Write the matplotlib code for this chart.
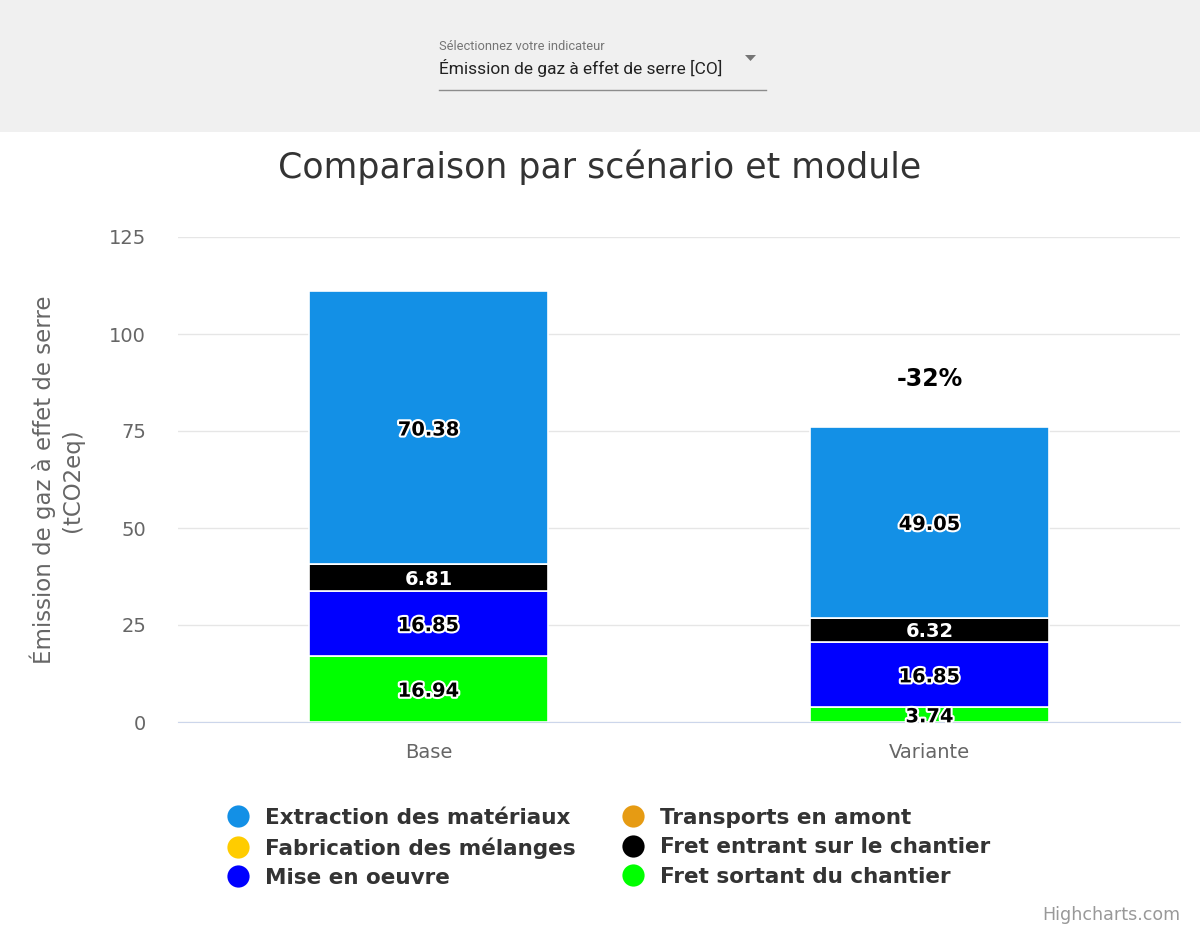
import numpy as np
import matplotlib
matplotlib.use("Agg")

import matplotlib.pyplot as plt
import matplotlib.patheffects as pe
from matplotlib.lines import Line2D
from matplotlib.patches import Rectangle, Polygon

# data (stack order: bottom -> top)
scenarios = ["Base", "Variante"]
series_names = ["Fret sortant du chantier", "Mise en oeuvre", "Fret entrant sur le chantier",
                "Fabrication des mélanges", "Transports en amont", "Extraction des matériaux"]
series_colors = ["#00ff00", "#0000ff", "#000000", "#ffcc00", "#e69b13", "#1390e6"]
fret_sortant = [16.94, 3.74]
mise_en_oeuvre = [16.85, 16.85]
fret_entrant = [6.81, 6.32]
fabrication = [0.0, 0.0]
transports = [0.0, 0.0]
extraction = [70.38, 49.05]
yticks = [0, 25, 50, 75, 100, 125]

series_values = [fret_sortant, mise_en_oeuvre, fret_entrant, fabrication, transports, extraction]

fig = plt.figure(figsize=(12, 9.32), dpi=100)

# header band with the selector
fig.add_artist(Rectangle((0, 1 - 132 / 932), 1, 132 / 932, transform=fig.transFigure,
                         facecolor="#f0f0f0", edgecolor="none", zorder=0))
fig.text(439 / 1200, 1 - 47 / 932, "Sélectionnez votre indicateur", family="Roboto",
         fontsize=9.3, color="#757575", va="center", ha="left")
fig.text(439 / 1200, 1 - 68 / 932, "Émission de gaz à effet de serre [CO]", family="Roboto",
         fontsize=12.5, color="#222222", va="center", ha="left")
fig.add_artist(Line2D([439 / 1200, 766 / 1200], [1 - 90 / 932, 1 - 90 / 932],
                      transform=fig.transFigure, color="#8c8c8c", lw=1))
fig.add_artist(Polygon([[745 / 1200, 1 - 55 / 932], [756 / 1200, 1 - 55 / 932],
                        [750.5 / 1200, 1 - 61 / 932]], closed=True, transform=fig.transFigure,
                       facecolor="#757575", edgecolor="none"))

ax = fig.add_axes([178 / 1200, 1 - 722 / 932, 1002 / 1200, 485 / 932])
x = np.arange(len(scenarios))
bottom = np.zeros(len(scenarios))
outline = [pe.withStroke(linewidth=3, foreground="white")]
for name, vals, col in zip(series_names, series_values, series_colors):
    vals = np.array(vals)
    ax.bar(x, vals, 0.479, bottom=bottom, color=col, edgecolor="white", linewidth=1.2,
           label=name, zorder=3)
    for xi, v, b in zip(x, vals, bottom):
        if v > 0:
            if col == "#000000":
                ax.annotate(f"{v:.2f}", (xi, b + v / 2), xytext=(0, -1.5),
                            textcoords="offset points", ha="center", va="center",
                            fontsize=14, fontweight="bold", color="white", zorder=5)
            else:
                ax.annotate(f"{v:.2f}", (xi, b + v / 2), xytext=(0, -1.5),
                            textcoords="offset points", ha="center", va="center",
                            fontsize=14, fontweight="bold", color="black",
                            path_effects=outline, zorder=5)
    bottom = bottom + vals

# change relative to base
pct = (bottom[1] - bottom[0]) / bottom[0] * 100
ax.annotate(f"{pct:.0f}%", (x[1], bottom[1]), xytext=(0, 35), textcoords="offset points",
            ha="center", va="center", fontsize=17, fontweight="bold", color="black")

ax.set_xlim(-0.5, 1.5)
ax.set_ylim(0, 125)
ax.set_yticks(yticks)
ax.set_xticks(x)
ax.set_xticklabels(scenarios)
ax.tick_params(axis="y", length=0, pad=23, labelsize=14, labelcolor="#666666")
ax.tick_params(axis="x", length=0, pad=15, labelsize=14, labelcolor="#666666")
ax.grid(axis="y", color="#e6e6e6", lw=1, zorder=0)
for s in ["top", "right", "left"]:
    ax.spines[s].set_visible(False)
ax.spines["bottom"].set_color("#ccd6eb")
ax.spines["bottom"].set_zorder(4)

fig.text(57 / 1200, 1 - 480 / 932, "Émission de gaz à effet de serre\n(tCO2eq)", rotation=90,
         ha="center", va="center", fontsize=16.5, color="#666666", linespacing=1.3)
fig.text(600 / 1200, 1 - 167 / 932, "Comparaison par scénario et module", ha="center",
         va="center", fontsize=25, color="#333333")
fig.text(1180 / 1200, 1 - 915 / 932, "Highcharts.com", ha="right", va="center",
         fontsize=12.6, color="#999999")

# legend, laid out row-wise like the original
order = [5, 3, 1, 4, 2, 0]
handles = [Line2D([], [], marker="o", linestyle="none", markersize=16,
                  markerfacecolor=series_colors[i], markeredgecolor="none") for i in order]
labels = [series_names[i] for i in order]
fig.legend(handles, labels, loc="upper left", bbox_to_anchor=(227 / 1200, 1 - 808 / 932),
           ncol=2, frameon=False, handlelength=1.0, handletextpad=0.75, columnspacing=2.2,
           labelspacing=0.43, borderpad=0, borderaxespad=0,
           prop={"size": 15.5, "weight": "bold"}, labelcolor="#333333")

fig.savefig("out.png", dpi=100)
